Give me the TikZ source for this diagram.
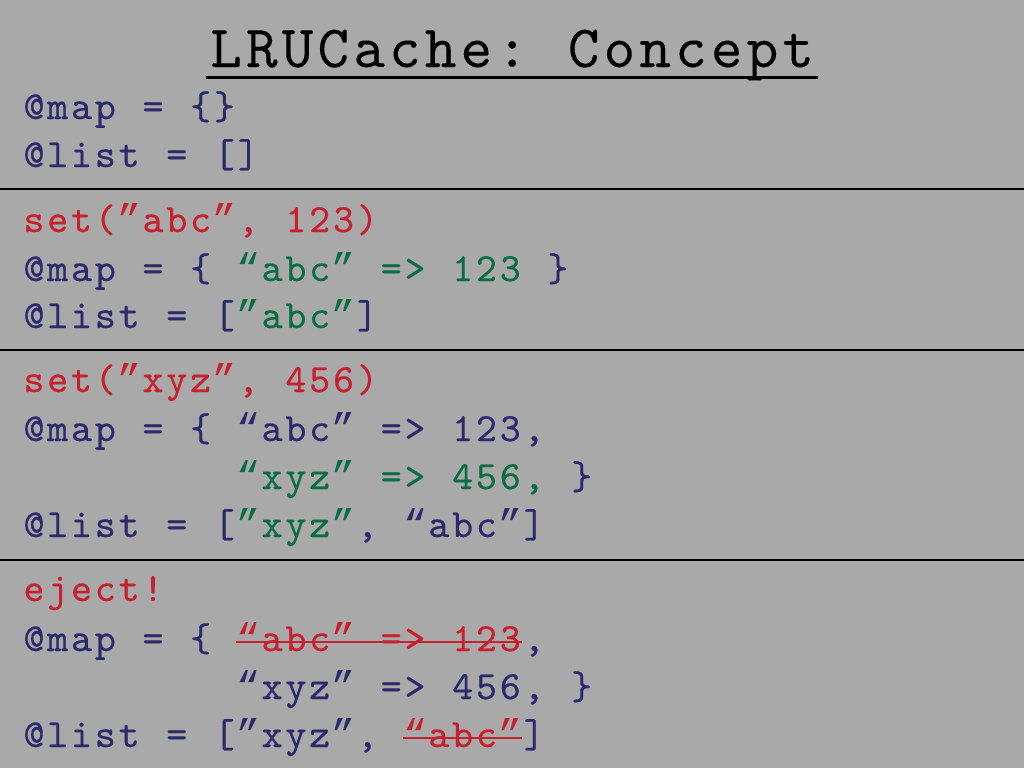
\documentclass[tikz,border=0pt]{standalone}
\usepackage{fontspec}
\usepackage{xcolor}
\usetikzlibrary{positioning,calc}
\newfontfamily\codefont{lmmono10-regular}[Extension=.otf, RawFeature={embolden=0.4}]
\newfontfamily\headfont{lmmono10-regular}[Extension=.otf, RawFeature={embolden=0.15}]
\newfontfamily\quotefont{Liberation Mono}
\definecolor{slidegray}{HTML}{A9A9A9}
\definecolor{codenavy}{HTML}{2B2A6C}
\definecolor{codered}{HTML}{C7202E}
\definecolor{codegreen}{HTML}{0B6E42}
\newcommand\cw{23.82}
\newlength\cellwd
\newcommand\oq{{\quotefont “}}
\newcommand\cq{{\quotefont ”}}
\makeatletter
\def\gridtext#1{\grid@loop#1\grid@end}
\def\grid@end{\grid@end}
\def\grid@loop#1{\ifx\grid@end#1\else\makebox[\cellwd]{#1}\expandafter\grid@loop\fi}
\makeatother
\newcommand\codesize{\codefont\fontsize{40}{48}\selectfont\setlength\cellwd{23.82pt}}
\newcommand\titlesize{\headfont\fontsize{60}{66}\selectfont\setlength\cellwd{35.76pt}}
\tikzset{
  code/.style={anchor=base west, inner sep=0pt, outer sep=0pt, text=codenavy, font=\codesize},
  cmd/.style={code, text=codered},
  added/.style={code, text=codegreen},
  gone/.style={code, text=codered},
  rule/.style={line width=2pt, black},
  strike/.style={codered, line width=2pt}
}

\begin{document}
\begin{tikzpicture}[x=1pt,y=-1pt]
    \fill[slidegray] (0,0) rectangle (1024,768);
    \useasboundingbox (0,0) rectangle (1024,768);

    \node[anchor=base west, inner sep=0pt, font=\titlesize] (title) at (208,67) {\gridtext{LRUCache:~Concept}};
    \draw[line width=3pt] ([xshift=-2pt,yshift=-10pt]title.base west) -- ([xshift=2pt,yshift=-10pt]title.base east);

    \node[code] (map0) at (22,119) {\gridtext{@map~=~\{\}}};
    \node[code] (list0) at (22,167) {\gridtext{@list~=~[]}};
    \draw[rule] (0,189) -- (1024,189);

    \node[cmd] (set1) at (22,232) {\gridtext{set(\cq abc\cq,~123)}};
    \node[code] (map1) at (22,281) {\gridtext{@map~=~\{~}};
    \node[added] (map1a) at (map1.base east) {\gridtext{\oq abc\cq~=>~123}};
    \node[code] (map1b) at (map1a.base east) {\gridtext{~\}}};
    \node[code] (list1) at (22,328) {\gridtext{@list~=~[}};
    \node[added] (list1a) at (list1.base east) {\gridtext{\cq abc\cq}};
    \node[code] (list1b) at (list1a.base east) {\gridtext{]}};
    \draw[rule] (0,350) -- (1024,350);

    \node[cmd] (set2) at (22,392) {\gridtext{set(\cq xyz\cq,~456)}};
    \node[code] (map2) at (22,441) {\gridtext{@map~=~\{~\oq abc\cq~=>~123,}};
    \node[added] (map2a) at ({22+9*\cw},489) {\gridtext{\oq xyz\cq~=>~456,}};
    \node[code] (map2b) at (map2a.base east) {\gridtext{~\}}};
    \node[code] (list2) at (22,537) {\gridtext{@list~=~[}};
    \node[added] (list2a) at (list2.base east) {\gridtext{\cq xyz\cq}};
    \node[code] (list2b) at (list2a.base east) {\gridtext{,~\oq abc\cq]}};
    \draw[rule] (0,560) -- (1024,560);

    \node[cmd] (eject) at (22,601) {\gridtext{eject!}};
    \node[code] (map3) at (22,651) {\gridtext{@map~=~\{~}};
    \node[gone] (map3a) at (map3.base east) {\gridtext{\oq abc\cq~=>~123}};
    \node[code] (map3b) at (map3a.base east) {\gridtext{,}};
    \node[code] (map3c) at ({22+9*\cw},699) {\gridtext{\oq xyz\cq~=>~456,~\}}};
    \node[code] (list3) at (22,747) {\gridtext{@list~=~[\cq xyz\cq,~}};
    \node[gone] (list3a) at (list3.base east) {\gridtext{\oq abc\cq}};
    \node[code] (list3b) at (list3a.base east) {\gridtext{]}};
    \draw[strike] ([yshift=9pt]map3a.base west) -- ([yshift=9pt]map3a.base east);
    \draw[strike] ([yshift=9pt]list3a.base west) -- ([yshift=9pt]list3a.base east);
\end{tikzpicture}
\end{document}
